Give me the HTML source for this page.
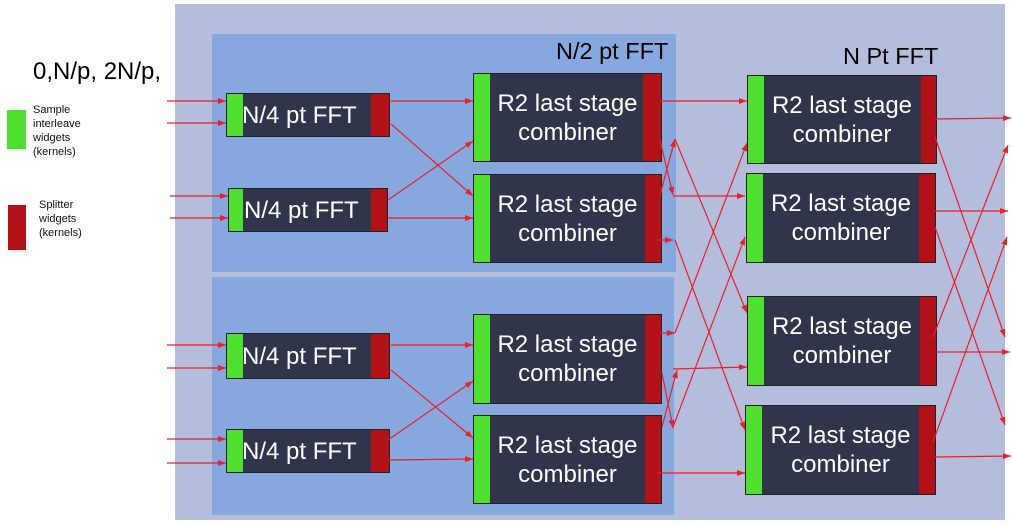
<!DOCTYPE html>
<html><head><meta charset="utf-8"><style>
body{margin:0;width:1012px;height:525px;background:#fff;position:relative;overflow:hidden;font-family:"Liberation Sans",sans-serif}
.a{position:absolute}
.box{position:absolute;background:#30354b;color:#fff;font-size:24px;text-align:center;display:flex;align-items:center;justify-content:center;line-height:29px;border:1px solid #222}
.n4{justify-content:flex-start;padding-left:15px;box-sizing:border-box}
.g{position:absolute;background:#4fe02f;top:0;bottom:0;left:0}
.r{position:absolute;background:#b31118;top:0;bottom:0;right:0}
.lg{font-size:11px;line-height:14px;color:#111}
</style></head><body>
<div class="a" style="left:175px;top:4px;width:830px;height:516px;background:#b4bedc"></div>
<div class="a" style="left:212px;top:34px;width:464px;height:238px;background:#86a8de"></div>
<div class="a" style="left:212px;top:277px;width:462px;height:238px;background:#86a8de"></div>
<div class="a" style="left:556px;top:38px;font-size:23.5px">N/2 pt FFT</div>
<div class="a" style="left:843px;top:43px;font-size:23.5px">N Pt FFT</div>
<div class="a" style="left:33px;top:58px;font-size:24px">0,N/p, 2N/p,</div>
<div class="a" style="left:7px;top:110px;width:19px;height:39px;background:#4fe02f"></div>
<div class="a" style="left:8px;top:205px;width:18px;height:45px;background:#b31118"></div>
<div class="a lg" style="left:33px;top:103px">Sample<br>interleave<br>widgets<br>(kernels)</div>
<div class="a lg" style="left:39px;top:198px">Splitter<br>widgets<br>(kernels)</div>

<div class="box n4" style="left:226px;top:93px;width:164px;height:44px"><div class="g" style="width:16px"></div><div class="r" style="width:18px"></div><span>N/4 pt FFT</span></div>
<div class="box n4" style="left:228px;top:188px;width:160px;height:44px"><div class="g" style="width:14px"></div><div class="r" style="width:16px"></div><span>N/4 pt FFT</span></div>
<div class="box n4" style="left:226px;top:333px;width:164px;height:46px"><div class="g" style="width:16px"></div><div class="r" style="width:18px"></div><span>N/4 pt FFT</span></div>
<div class="box n4" style="left:226px;top:429px;width:164px;height:44px"><div class="g" style="width:16px"></div><div class="r" style="width:18px"></div><span>N/4 pt FFT</span></div>

<div class="box" style="left:473px;top:73px;width:187px;height:87px"><div class="g" style="width:16px"></div><div class="r" style="width:18px"></div><span>R2 last stage<br>combiner</span></div>
<div class="box" style="left:473px;top:174px;width:187px;height:87px"><div class="g" style="width:16px"></div><div class="r" style="width:16px"></div><span>R2 last stage<br>combiner</span></div>
<div class="box" style="left:473px;top:314px;width:187px;height:88px"><div class="g" style="width:16px"></div><div class="r" style="width:16px"></div><span>R2 last stage<br>combiner</span></div>
<div class="box" style="left:473px;top:415px;width:187px;height:87px"><div class="g" style="width:16px"></div><div class="r" style="width:16px"></div><span>R2 last stage<br>combiner</span></div>

<div class="box" style="left:747px;top:75px;width:188px;height:87px"><div class="g" style="width:16px"></div><div class="r" style="width:15px"></div><span>R2 last stage<br>combiner</span></div>
<div class="box" style="left:746px;top:173px;width:188px;height:88px"><div class="g" style="width:16px"></div><div class="r" style="width:16px"></div><span>R2 last stage<br>combiner</span></div>
<div class="box" style="left:747px;top:296px;width:188px;height:88px"><div class="g" style="width:16px"></div><div class="r" style="width:16px"></div><span>R2 last stage<br>combiner</span></div>
<div class="box" style="left:745px;top:405px;width:189px;height:88px"><div class="g" style="width:16px"></div><div class="r" style="width:16px"></div><span>R2 last stage<br>combiner</span></div>

<svg class="a" style="left:0;top:0" width="1012" height="525">
<defs><marker id="m" markerWidth="8" markerHeight="6" refX="8" refY="3" orient="auto" markerUnits="userSpaceOnUse"><path d="M0,0L8,3L0,6z" fill="#e8202a"/></marker></defs>
<g stroke="#e8202a" stroke-width="1.2" marker-end="url(#m)">
<line x1="167" y1="101" x2="226" y2="101"/><line x1="167" y1="123" x2="226" y2="123"/>
<line x1="170" y1="196" x2="228" y2="196"/><line x1="170" y1="218" x2="228" y2="218"/>
<line x1="167" y1="345" x2="226" y2="345"/><line x1="167" y1="368" x2="226" y2="368"/>
<line x1="167" y1="439" x2="226" y2="439"/><line x1="167" y1="463" x2="226" y2="463"/>
<line x1="391" y1="101" x2="473" y2="101"/><line x1="391" y1="124" x2="473" y2="196"/>
<line x1="388" y1="200" x2="473" y2="141"/><line x1="388" y1="218" x2="473" y2="218"/>
<line x1="391" y1="345" x2="473" y2="345"/><line x1="391" y1="370" x2="473" y2="438"/>
<line x1="388" y1="440" x2="473" y2="381"/><line x1="388" y1="460" x2="473" y2="459"/>
<line x1="660" y1="101" x2="747" y2="101"/><line x1="660" y1="140" x2="673" y2="195"/>
<line x1="660" y1="195" x2="675" y2="139"/><line x1="675" y1="139" x2="747" y2="313"/>
<line x1="673" y1="196" x2="745" y2="196"/><line x1="657" y1="240" x2="673" y2="240"/>
<line x1="675" y1="240" x2="745" y2="430"/><line x1="660" y1="333" x2="675" y2="333"/>
<line x1="675" y1="333" x2="747" y2="143"/><line x1="673" y1="369" x2="747" y2="367"/>
<line x1="662" y1="373" x2="673" y2="428"/><line x1="662" y1="427" x2="677" y2="370"/>
<line x1="673" y1="427" x2="745" y2="237"/><line x1="657" y1="473" x2="745" y2="473"/>
<line x1="935" y1="119" x2="1011" y2="118"/><line x1="935" y1="137" x2="1005" y2="337"/>
<line x1="935" y1="211" x2="1008" y2="211"/><line x1="935" y1="227" x2="1005" y2="425"/>
<line x1="933" y1="337" x2="1008" y2="145"/><line x1="935" y1="352" x2="1010" y2="352"/>
<line x1="933" y1="442" x2="1007" y2="237"/><line x1="935" y1="457" x2="1011" y2="456"/>
</g></svg>
</body></html>
